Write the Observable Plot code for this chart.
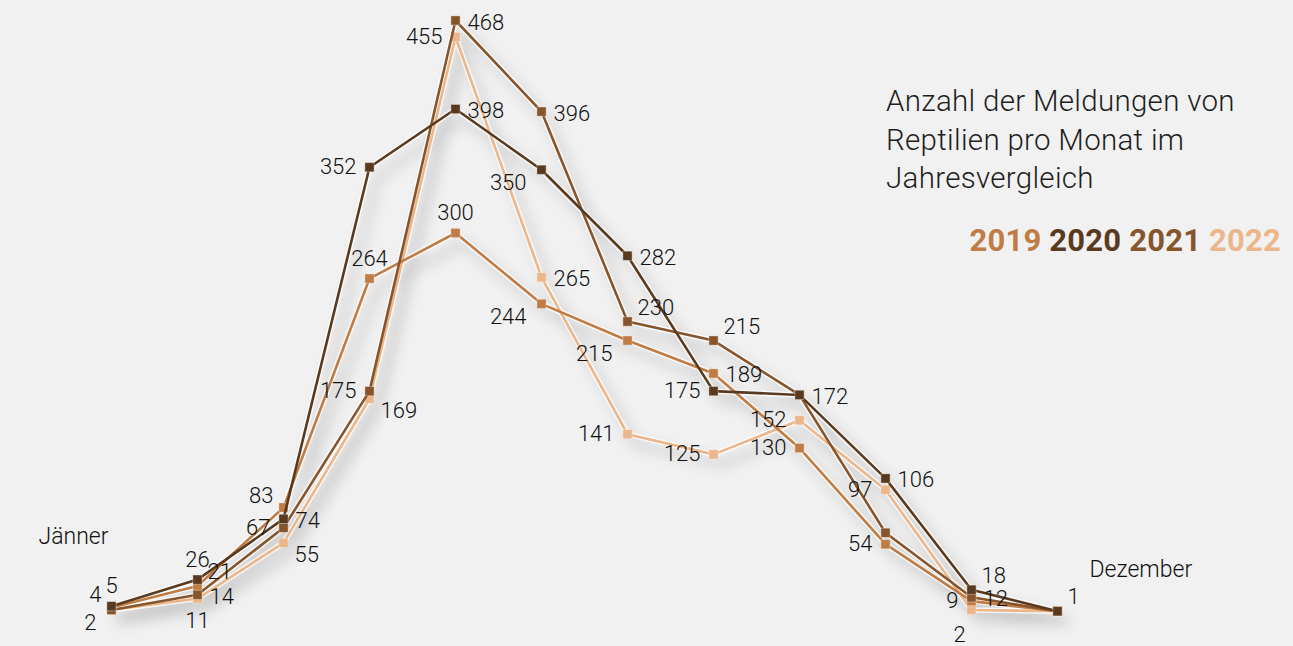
<!DOCTYPE html>
<html><head><meta charset="utf-8">
<script src="https://cdn.jsdelivr.net/npm/d3@7"></script>
<script src="https://cdn.jsdelivr.net/npm/@observablehq/plot@0.6"></script>
<style>
html,body{margin:0;padding:0;background:#f1f1f1;}
#wrap{position:relative;width:1293px;height:646px;overflow:hidden;font-family:Roboto,"Noto Sans",sans-serif;}
#title{position:absolute;left:886px;top:82px;font-size:29.5px;font-weight:300;line-height:38.5px;color:#1e1e1e;letter-spacing:0.3px;}
#legend{position:absolute;right:12px;top:222px;font-size:31px;font-weight:700;letter-spacing:0.2px;white-space:nowrap;}
.shadow{filter:drop-shadow(8px 10px 7px rgba(0,0,0,0.22));}
</style></head>
<body><div id="wrap"><div id="chart"></div>
<div id="title">Anzahl der Meldungen von<br>Reptilien pro Monat im<br>Jahresvergleich</div>
<div id="legend"></div></div>
<script>
const months = ["Jänner","Februar","März","April","Mai","Juni","Juli","August","September","Oktober","November","Dezember"];
const years = ["2019","2020","2021","2022"];
const v2019 = [4, 21, 83, 264, 300, 244, 215, 189, 130, 54, 9, 1];
const v2020 = [5, 26, 74, 352, 398, 350, 282, 175, 172, 106, 18, 1];
const v2021 = [2, 14, 67, 175, 468, 396, 230, 215, 172, 63, 12, 1];
const v2022 = [2, 11, 55, 169, 455, 265, 141, 125, 152, 97, 2, 1];
// label placement direction per point ("" = no label)
const side2019 = ["nw","ne","nw","n","n","sw","sw","e","w","w","w",""];
const side2020 = ["n","n","e","w","e","sw","e","w","e","e","ne","ne"];
const side2021 = ["sw","e","w","w","e","e","ne","ne","","","e",""];
const side2022 = ["","s","se","se","w","e","w","w","w","w","ss",""];
const colors = ["#c07c45","#5a3a1f","#86552c","#ebb68a"];

const values = [v2019, v2020, v2021, v2022];
const sides = [side2019, side2020, side2021, side2022];
const data = [];
years.forEach((y, i) => months.forEach((m, j) => data.push({year: y, month: m, value: values[i][j], side: sides[i][j]})));
const drawOrder = ["2022","2019","2021","2020"];
const ordered = drawOrder.flatMap(y => data.filter(d => d.year === y));

const offs = {
  e: {dx: 12, dy: 2, textAnchor: "start"},
  w: {dx: -13, dy: 0, textAnchor: "end"},
  n: {dx: 0, dy: -20, textAnchor: "middle"},
  s: {dx: 0, dy: 22, textAnchor: "middle"},
  ss: {dx: -12, dy: 25, textAnchor: "middle"},
  ne: {dx: 10, dy: -14, textAnchor: "start"},
  nw: {dx: -10, dy: -12, textAnchor: "end"},
  se: {dx: 11, dy: 12, textAnchor: "start"},
  sw: {dx: -15, dy: 13, textAnchor: "end"}
};
const labelMarks = Object.entries(offs).map(([k, o]) =>
  Plot.text(data.filter(d => d.side === k), {x: "month", y: "value", text: d => String(d.value), ...o, fontSize: 22, fontWeight: 300, fill: "#111"}));

const color = {domain: years, range: colors};
const chart = Plot.plot({
  width: 1293, height: 646,
  marginLeft: 110, marginRight: 235, marginTop: 20, marginBottom: 34,
  x: {type: "point", domain: months, padding: 0, axis: null},
  y: {domain: [0, 468], axis: null},
  color,
  style: {background: "transparent", fontFamily: "Roboto, 'Noto Sans', sans-serif", overflow: "visible"},
  marks: [
    Plot.line(ordered, {x: "month", y: "value", z: "year", stroke: "#ffffff", strokeWidth: 5.5, strokeOpacity: 0.75, className: "shadow"}),
    ...drawOrder.map(y => [
      Plot.line(data.filter(d => d.year === y), {x: "month", y: "value", stroke: "year", strokeWidth: 2.6}),
      Plot.dot(data.filter(d => d.year === y), {x: "month", y: "value", fill: "year", symbol: "square", r: 5.2, stroke: "#ffffff", strokeOpacity: 0.35, strokeWidth: 1})
    ]).flat(),
    ...labelMarks,
    Plot.text([months[0]], {x: d => d, y: d => v2019[0], text: d => d, dx: -3, dy: -71, textAnchor: "end", fontSize: 23, fontWeight: 300, fill: "#111"}),
    Plot.text([months[11]], {x: d => d, y: d => v2020[11], text: d => d, dx: 32, dy: -42, textAnchor: "start", fontSize: 23, fontWeight: 300, fill: "#111"})
  ]
});
document.getElementById("chart").appendChild(chart);
const lg = document.getElementById("legend");
years.forEach((y, i) => {
  const s = document.createElement("span");
  s.textContent = y;
  s.style.color = colors[i];
  lg.appendChild(s);
  if (i < years.length - 1) lg.appendChild(document.createTextNode(" "));
});
</script></body></html>
